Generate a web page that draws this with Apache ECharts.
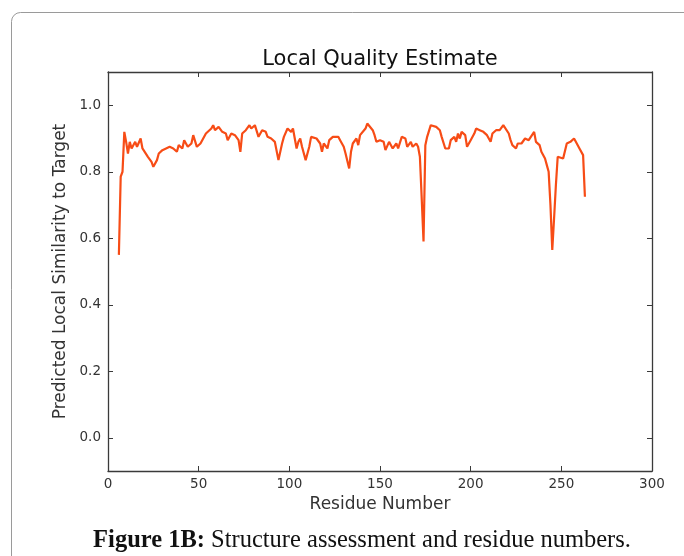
<!DOCTYPE html>
<html>
<head>
<meta charset="utf-8">
<script src="https://cdn.jsdelivr.net/npm/echarts@6/dist/echarts.min.js"></script>
<style>html,body{margin:0;padding:0;background:#fff;}#c{width:684px;height:556px;}</style>
</head>
<body>
<div id="c"></div>
<script>
var residues = [6,7,8,9,10,11,12,13,15,16,18,19,20,22,24,25,26,27,28,30,32,34,36,38,39,41,42,44,46,47,49,51,52,54,55,57,58,59,61,63,65,66,68,70,72,73,74,76,78,79,81,83,85,87,88,90,92,94,96,97,99,100,101,102,103,104,105,106,107,109,111,112,113,115,117,118,119,121,122,124,125,127,128,130,131,133,134,135,137,138,139,140,142,143,144,146,147,148,150,152,153,155,157,159,160,162,164,165,167,168,170,171,172,173,174,175,176,178,179,181,183,184,186,188,189,191,192,193,194,195,197,198,200,202,203,205,207,209,211,212,214,216,218,219,221,222,223,225,226,228,229,230,232,233,235,236,237,238,239,241,242,243,244,245,246,247,248,249,251,253,255,257,258,260,261,262,263];
var similarity = [0.55,0.785,0.80,0.92,0.89,0.855,0.89,0.87,0.89,0.875,0.90,0.87,0.875,0.845,0.83,0.815,0.82,0.835,0.855,0.865,0.87,0.875,0.87,0.86,0.88,0.87,0.895,0.875,0.885,0.91,0.875,0.885,0.89,0.915,0.915,0.93,0.94,0.925,0.935,0.92,0.915,0.895,0.915,0.91,0.895,0.86,0.915,0.925,0.94,0.93,0.94,0.905,0.925,0.92,0.905,0.90,0.89,0.835,0.885,0.905,0.93,0.935,0.92,0.93,0.90,0.87,0.89,0.90,0.875,0.835,0.875,0.905,0.90,0.90,0.885,0.86,0.885,0.87,0.895,0.905,0.90,0.905,0.895,0.875,0.855,0.81,0.86,0.885,0.90,0.88,0.91,0.905,0.93,0.945,0.945,0.925,0.91,0.89,0.895,0.89,0.865,0.89,0.87,0.885,0.87,0.905,0.90,0.875,0.89,0.875,0.885,0.875,0.845,0.72,0.59,0.88,0.905,0.94,0.945,0.935,0.925,0.905,0.87,0.87,0.895,0.905,0.89,0.915,0.90,0.92,0.91,0.875,0.895,0.915,0.93,0.925,0.92,0.91,0.89,0.915,0.925,0.925,0.94,0.935,0.915,0.895,0.88,0.87,0.885,0.885,0.88,0.90,0.895,0.90,0.92,0.89,0.895,0.88,0.86,0.84,0.82,0.80,0.70,0.565,0.66,0.76,0.845,0.845,0.84,0.885,0.89,0.90,0.89,0.87,0.865,0.85,0.725];
var yTicks = [0.0, 0.2, 0.4, 0.6, 0.8, 1.0];
var chartTitle = 'Local Quality Estimate';
var xName = 'Residue Number';
var yName = 'Predicted Local Similarity to Target';

var pts = residues.map(function (r, i) { return [r, similarity[i]]; });
var font = 'DejaVu Sans';
var axisCol = '#3a3a3a';
function xa(pos, labels) {
  return {
    type: 'value', position: pos, min: 0, max: 300, interval: 50,
    name: labels ? xName : '', nameLocation: 'middle', nameGap: 23,
    nameTextStyle: { fontFamily: font, fontSize: 17, color: '#333' },
    axisLine: { show: true, onZero: false, lineStyle: { color: axisCol, width: 1.3 } },
    axisTick: { show: true, inside: true, length: 5, lineStyle: { color: axisCol } },
    axisLabel: { show: labels, margin: 6, fontFamily: font, fontSize: 13.5, color: '#333' },
    splitLine: { show: false }
  };
}
function ya(pos, labels) {
  return {
    type: 'value', position: pos, min: -0.1, max: 1.1,
    name: labels ? yName : '', nameLocation: 'middle', nameGap: 36,
    nameTextStyle: { fontFamily: font, fontSize: 17, color: '#333' },
    axisLine: { show: true, onZero: false, lineStyle: { color: axisCol, width: 1.3 } },
    axisTick: { show: true, inside: true, length: 5, customValues: yTicks, lineStyle: { color: axisCol } },
    axisLabel: { show: labels, margin: 7, fontFamily: font, fontSize: 13.5, color: '#333', customValues: yTicks,
      formatter: function (v) { return v.toFixed(1); } },
    splitLine: { show: false }
  };
}
var chart = echarts.init(document.getElementById('c'), null, { renderer: 'canvas' });
chart.setOption({
  animation: false,
  backgroundColor: '#fff',
  title: { text: chartTitle, left: 375, top: 44, textAlign: 'center',
    textStyle: { fontFamily: font, fontSize: 21, fontWeight: 'normal', color: '#111' } },
  grid: { left: 108, right: 32, top: 72, bottom: 85 },
  xAxis: [xa('bottom', true), xa('top', false)],
  yAxis: [ya('left', true), ya('right', false)],
  series: [{
    type: 'line', data: pts, xAxisIndex: 0, yAxisIndex: 0,
    showSymbol: false, symbol: 'none',
    lineStyle: { color: '#f74c16', width: 2.2 }
  }],
  graphic: [
    { type: 'rect', silent: true, z: -1,
      shape: { x: 11.5, y: 12.5, width: 720, height: 620, r: 9 },
      style: { fill: 'none', stroke: '#9a9a9a', lineWidth: 1 } },
    { type: 'text', x: 362, y: 541, silent: true,
      style: { text: '{b|Figure 1B:} Structure assessment and residue numbers.',
        align: 'center', verticalAlign: 'middle',
        fontFamily: 'Liberation Serif', fontSize: 24.5, fill: '#111',
        rich: { b: { fontFamily: 'Liberation Serif', fontSize: 24.5, fontWeight: 'bold', fill: '#111' } } } }
  ]
});
</script>
</body>
</html>
